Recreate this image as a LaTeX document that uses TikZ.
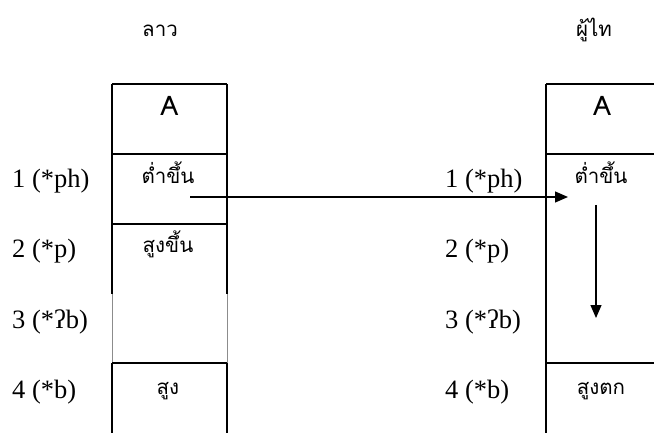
\documentclass[tikz,border=0pt]{standalone}
\usepackage{fontspec}
\setmainfont{Liberation Serif}
\newfontfamily\thai[Script=Thai]{Loma}
\usetikzlibrary{arrows.meta}
\begin{document}
\begin{tikzpicture}[x=1pt,y=-1pt,
  boxline/.style={line width=1.4pt},
  thinline/.style={line width=0.8pt, black!45},
  thaitext/.style={font=\thai\fontsize{20.5}{24}\selectfont, anchor=base},
  atext/.style={font=\thai\fontsize{27}{30}\selectfont, anchor=base},
  lbl/.style={font=\fontsize{26.5}{30}\selectfont, anchor=base west, inner sep=0pt},
  arr/.style={line width=1.2pt, -{Triangle[length=13pt,width=11pt]}}]
\useasboundingbox (0,0) rectangle (654,433);
% left box
\draw[boxline] (112,84) -- (112,294);
\draw[boxline] (227,84) -- (227,294);
\draw[thinline] (112,294) -- (112,363);
\draw[thinline] (227,294) -- (227,363);
\draw[boxline] (112,363) -- (112,433);
\draw[boxline] (227,363) -- (227,433);
\foreach \y in {84,154,224,363} \draw[boxline] (112,\y) -- (227,\y);
% right box
\draw[boxline] (546,84) -- (546,433);
\foreach \y in {84,154,363} \draw[boxline] (546,\y) -- (654,\y);
% titles
\node[thaitext] (tlao) at (160,37) {ลาว};
\node[thaitext] (tphu) at (594,37) {ผู้ไท};
% left cells
\node[atext] (lA) at (169.5,116) {A};
\node[thaitext] (l1) at (168,184) {ต่ำขึ้น};
\node[thaitext] (l2) at (168,253) {สูงขึ้น};
\node[thaitext] (l4) at (168,394) {สูง};
% right cells
\node[atext] (rA) at (602,116) {A};
\node[thaitext] (r1) at (601,184) {ต่ำขึ้น};
\node[thaitext] (r4) at (601,394) {สูงตก};
% labels
\node[lbl] (a1) at (12,188) {1 (*ph)};
\node[lbl] (a2) at (12,258) {2 (*p)};
\node[lbl] (a3) at (12,328) {3 (*ʔb)};
\node[lbl] (a4) at (12,398) {4 (*b)};
\node[lbl] (b1) at (445,188) {1 (*ph)};
\node[lbl] (b2) at (445,258) {2 (*p)};
\node[lbl] (b3) at (445,328) {3 (*ʔb)};
\node[lbl] (b4) at (445,398) {4 (*b)};
% arrows
\coordinate (hs) at (190,197);
\coordinate (he) at (568,197);
\coordinate (vs) at (596,205);
\coordinate (ve) at (596,318);
\draw[arr] (hs) -- (he);
\draw[arr] (vs) -- (ve);
\end{tikzpicture}
\end{document}
